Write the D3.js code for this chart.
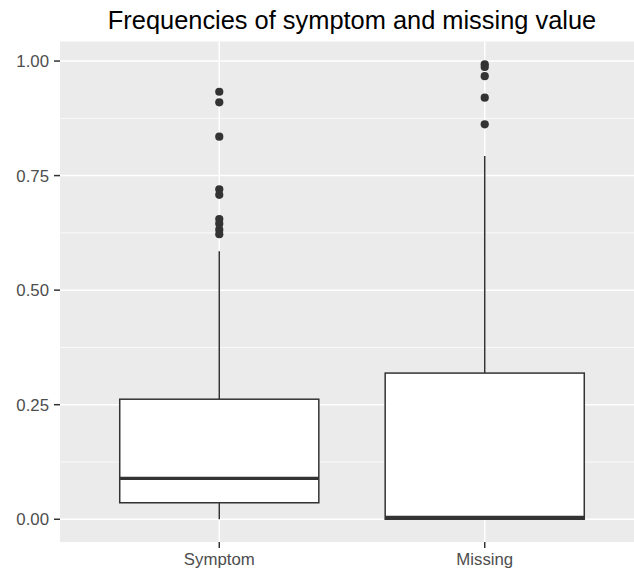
<!DOCTYPE html>
<html>
<head>
<meta charset="utf-8">
<script src="https://cdn.jsdelivr.net/npm/d3@7"></script>
<style>
  html, body { margin: 0; padding: 0; background: #ffffff; }
  svg { display: block; }
  text { font-family: "Liberation Sans", Arial, Helvetica, sans-serif; }
</style>
</head>
<body>
<svg id="chart" width="634" height="575"></svg>
<script>
// ---- data ----
const categories = ["Symptom", "Missing"];
const lowerWhisker = [0.000, 0.000];
const q1Values = [0.036, 0.000];
const medianValues = [0.089, 0.004];
const q3Values = [0.262, 0.319];
const upperWhisker = [0.585, 0.793];
const symptomOutliers = [0.933, 0.910, 0.835, 0.720, 0.708, 0.655, 0.645, 0.632, 0.622];
const missingOutliers = [0.993, 0.987, 0.967, 0.920, 0.862];
const yTicks = [0.00, 0.25, 0.50, 0.75, 1.00];
const yMinorTicks = [0.125, 0.375, 0.625, 0.875];
const titleText = "Frequencies of symptom and missing value";

const outliers = [symptomOutliers, missingOutliers];

// ---- layout ----
const panel = { left: 60, right: 644, top: 41.5, bottom: 542 };
const svg = d3.select("#chart");

// y scale with ggplot-style 5% expansion of data extent
const allVals = [].concat(lowerWhisker, upperWhisker, symptomOutliers, missingOutliers);
const yMin = d3.min(allVals), yMax = d3.max(allVals);
const pad = (yMax - yMin) * 0.05;
const y = d3.scaleLinear().domain([yMin - pad, yMax + pad]).range([panel.bottom, panel.top]);

const x = d3.scalePoint().domain(categories).range([panel.left, panel.right]).padding(0.6);
const boxW = x.step() * 0.75;

// clip
svg.append("defs").append("clipPath").attr("id", "pclip")
  .append("rect").attr("x", panel.left).attr("y", panel.top)
  .attr("width", panel.right - panel.left).attr("height", panel.bottom - panel.top);

// background
svg.append("rect").attr("x", panel.left).attr("y", panel.top)
  .attr("width", panel.right - panel.left).attr("height", panel.bottom - panel.top)
  .attr("fill", "#EBEBEB");

const g = svg.append("g").attr("clip-path", "url(#pclip)");

// grid
g.selectAll(".minor").data(yMinorTicks).enter().append("line")
  .attr("x1", panel.left).attr("x2", panel.right)
  .attr("y1", d => y(d)).attr("y2", d => y(d))
  .attr("stroke", "#ffffff").attr("stroke-width", 0.75);
g.selectAll(".major").data(yTicks).enter().append("line")
  .attr("x1", panel.left).attr("x2", panel.right)
  .attr("y1", d => y(d)).attr("y2", d => y(d))
  .attr("stroke", "#ffffff").attr("stroke-width", 1.5);
g.selectAll(".vmajor").data(categories).enter().append("line")
  .attr("x1", d => x(d)).attr("x2", d => x(d))
  .attr("y1", panel.top).attr("y2", panel.bottom)
  .attr("stroke", "#ffffff").attr("stroke-width", 1.5);

const ink = "#333333";
const boxes = categories.map((c, i) => ({
  c, lo: lowerWhisker[i], q1: q1Values[i], med: medianValues[i], q3: q3Values[i], hi: upperWhisker[i], out: outliers[i]
}));

boxes.forEach(b => {
  const cx = x(b.c);
  // whiskers
  g.append("line").attr("x1", cx).attr("x2", cx).attr("y1", y(b.q3)).attr("y2", y(b.hi))
    .attr("stroke", ink).attr("stroke-width", 1.5);
  if (b.q1 > b.lo) {
    g.append("line").attr("x1", cx).attr("x2", cx).attr("y1", y(b.lo)).attr("y2", y(b.q1))
      .attr("stroke", ink).attr("stroke-width", 1.5);
  }
  // box
  g.append("rect").attr("x", cx - boxW / 2).attr("y", y(b.q3))
    .attr("width", boxW).attr("height", y(b.q1) - y(b.q3))
    .attr("fill", "#ffffff").attr("stroke", ink).attr("stroke-width", 1.5);
  // median
  g.append("line").attr("x1", cx - boxW / 2).attr("x2", cx + boxW / 2)
    .attr("y1", y(b.med)).attr("y2", y(b.med))
    .attr("stroke", ink).attr("stroke-width", 3.2);
  // outliers
  g.selectAll(null).data(b.out).enter().append("circle")
    .attr("cx", cx).attr("cy", d => y(d)).attr("r", 4.1).attr("fill", ink);
});

// axes
const axisCol = "#333333", labCol = "#4D4D4D";
const tickFont = 16.8;
yTicks.forEach(t => {
  svg.append("line").attr("x1", panel.left - 6).attr("x2", panel.left)
    .attr("y1", y(t)).attr("y2", y(t)).attr("stroke", axisCol).attr("stroke-width", 1.5);
  svg.append("text").attr("x", panel.left - 11).attr("y", y(t)).attr("dy", "0.36em")
    .attr("text-anchor", "end").attr("font-size", tickFont).attr("fill", labCol)
    .text(d3.format(".2f")(t));
});
categories.forEach(c => {
  svg.append("line").attr("x1", x(c)).attr("x2", x(c))
    .attr("y1", panel.bottom).attr("y2", panel.bottom + 6).attr("stroke", axisCol).attr("stroke-width", 1.5);
  svg.append("text").attr("x", x(c)).attr("y", panel.bottom + 23)
    .attr("text-anchor", "middle").attr("font-size", tickFont).attr("fill", labCol).text(c);
});

// title
svg.append("text").attr("x", (panel.left + panel.right) / 2).attr("y", 28.5)
  .attr("text-anchor", "middle").attr("font-size", 25.4).attr("fill", "#000000")
  .text(titleText);
</script>
</body>
</html>
